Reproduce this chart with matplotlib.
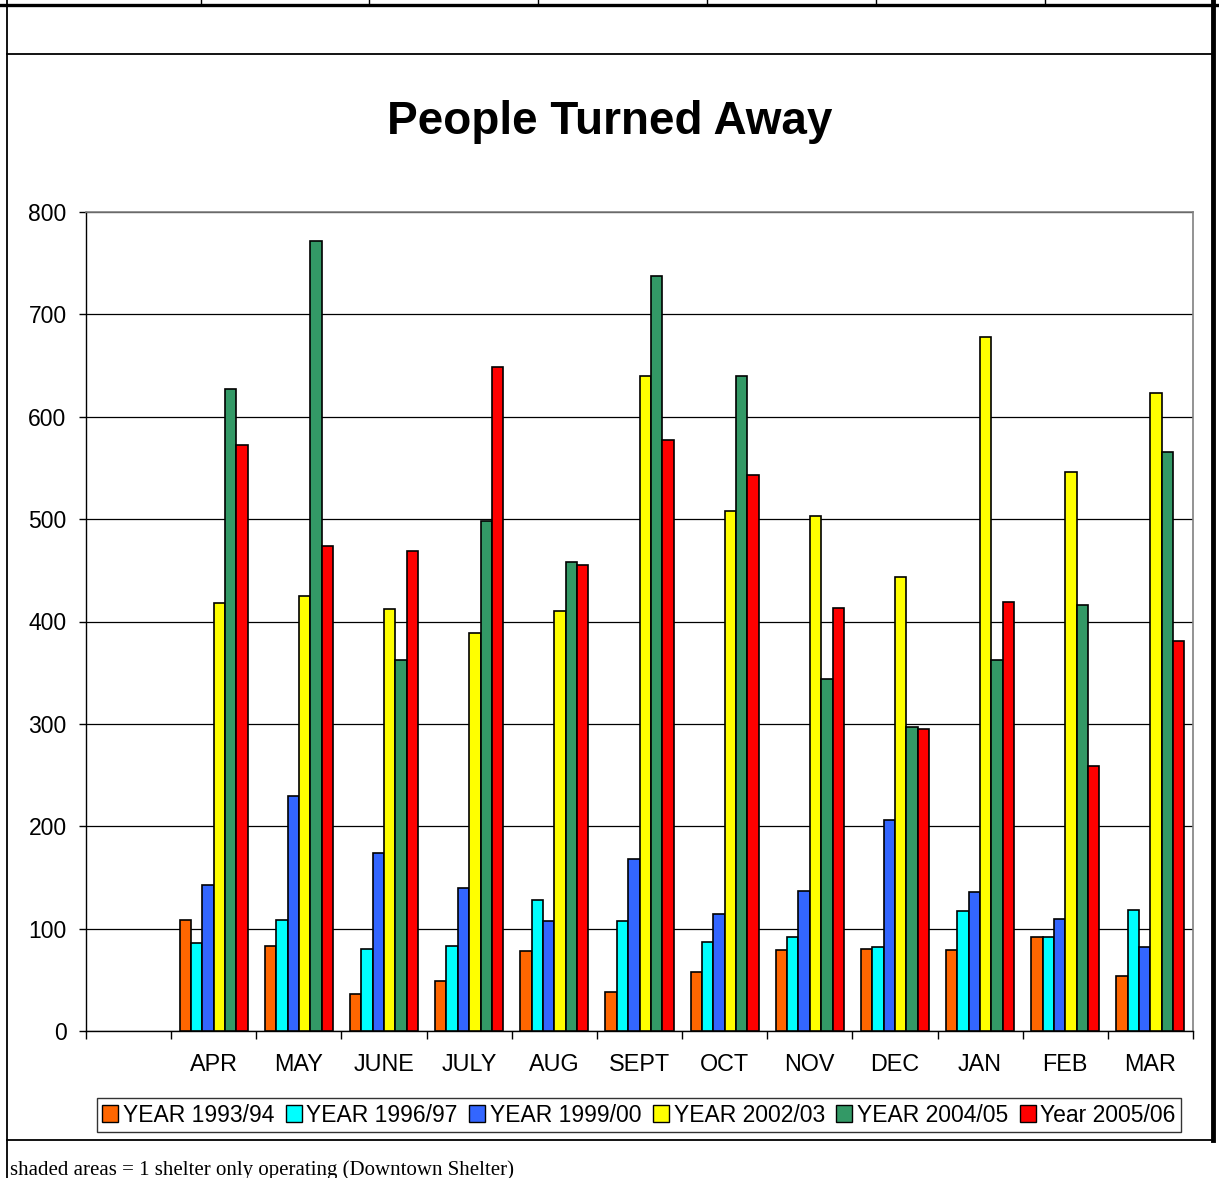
import matplotlib
matplotlib.use("Agg")
import matplotlib.pyplot as plt
from matplotlib.lines import Line2D
from matplotlib.patches import Patch
import numpy as np

plt.rcParams['font.family'] = ['Liberation Sans', 'DejaVu Sans']

months = ["APR", "MAY", "JUNE", "JULY", "AUG", "SEPT", "OCT", "NOV", "DEC", "JAN", "FEB", "MAR"]
series_names = ["YEAR 1993/94", "YEAR 1996/97", "YEAR 1999/00", "YEAR 2002/03", "YEAR 2004/05", "Year 2005/06"]
series_colors = ["#FF6600", "#00FFFF", "#3366FF", "#FFFF00", "#339966", "#FF0000"]

year_1993 = [108, 83, 36, 49, 78, 38, 58, 79, 80, 79, 92, 54]
year_1996 = [86, 108, 80, 83, 128, 107, 87, 92, 82, 117, 92, 118]
year_1999 = [143, 230, 174, 140, 107, 168, 114, 137, 206, 136, 109, 82]
year_2002 = [418, 425, 412, 389, 410, 640, 508, 503, 443, 678, 546, 623]
year_2004 = [627, 772, 362, 498, 458, 737, 640, 344, 297, 362, 416, 566]
year_2005 = [572, 474, 469, 649, 455, 577, 543, 413, 295, 419, 259, 381]
all_series = [year_1993, year_1996, year_1999, year_2002, year_2004, year_2005]

W, H = 1219, 1178
fig = plt.figure(figsize=(W / 100, H / 100), dpi=100)

def fx(px):
    return px / W

def fy(py):
    return 1 - py / H

# spreadsheet frame around the chart
frame = [
    Line2D([0, 1], [fy(4.5), fy(4.5)], lw=2.4, color="black"),
    Line2D([fx(7), fx(1213)], [fy(54), fy(54)], lw=1.3, color="black"),
    Line2D([fx(7), fx(7)], [fy(0), fy(1178)], lw=1.3, color="black"),
    Line2D([fx(1213), fx(1213)], [fy(0), fy(1140)], lw=3.5, color="black"),
    Line2D([fx(7), fx(1213)], [fy(1140), fy(1140)], lw=1.3, color="black"),
]
for xc in [201, 369, 538, 707, 876, 1045]:
    frame.append(Line2D([fx(xc), fx(xc)], [fy(0), fy(4)], lw=1.0, color="black"))
for ln in frame:
    fig.add_artist(ln)

ax = fig.add_axes([fx(86), fy(1031), fx(1193) - fx(86), fy(212) - fy(1031)])

n = len(all_series)
group_w = 0.8
bw = group_w / n
x = np.arange(1, len(months) + 1)
for i, (vals, col) in enumerate(zip(all_series, series_colors)):
    offs = (i - (n - 1) / 2) * bw
    ax.bar(x + offs, vals, width=bw, color=col, edgecolor="black", linewidth=1.2, zorder=3)

ax.set_xlim(-0.5, 12.5)
ax.set_ylim(0, 800)
ax.set_yticks(np.arange(0, 801, 100))
ax.yaxis.grid(True, color="black", linewidth=0.9, zorder=0)
ax.set_axisbelow(True)

ax.set_xticks(np.arange(-0.5, 12.51, 1))
ax.set_xticklabels([])
ax.set_xticks(x, minor=True)
ax.set_xticklabels(months, minor=True, fontsize=16.8)
ax.tick_params(axis="x", which="minor", length=0, pad=16)
ax.tick_params(axis="x", which="major", length=6, width=1, direction="out", color="black")
ax.tick_params(axis="y", length=5, width=1, direction="out", labelsize=16.5, pad=9)

for side in ["top", "right"]:
    ax.spines[side].set_color("#808080")
    ax.spines[side].set_linewidth(1.2)
ax.spines["left"].set_color("black")
ax.spines["bottom"].set_color("black")
ax.spines["left"].set_linewidth(1.0)
ax.spines["bottom"].set_linewidth(1.0)

fig.text(0.5, fy(122), "People Turned Away", ha="center", va="center",
         fontsize=33, fontweight="bold")

handles = [Patch(facecolor=c, edgecolor="black", linewidth=1.0) for c in series_colors]
leg = fig.legend(handles, series_names, loc="center", bbox_to_anchor=(fx(639), fy(1115)),
                 ncol=6, fontsize=16.5, frameon=True, fancybox=False, edgecolor="black",
                 handlelength=0.7, handleheight=0.7, handletextpad=0.2,
                 columnspacing=0.5, borderpad=0.25, borderaxespad=0)
leg.get_frame().set_linewidth(1.0)

fig.text(fx(10), fy(1160), "shaded areas = 1 shelter only operating (Downtown Shelter)",
         ha="left", va="top", fontsize=15, family=["Liberation Serif", "DejaVu Serif"])

fig.savefig("out.png", dpi=100)
